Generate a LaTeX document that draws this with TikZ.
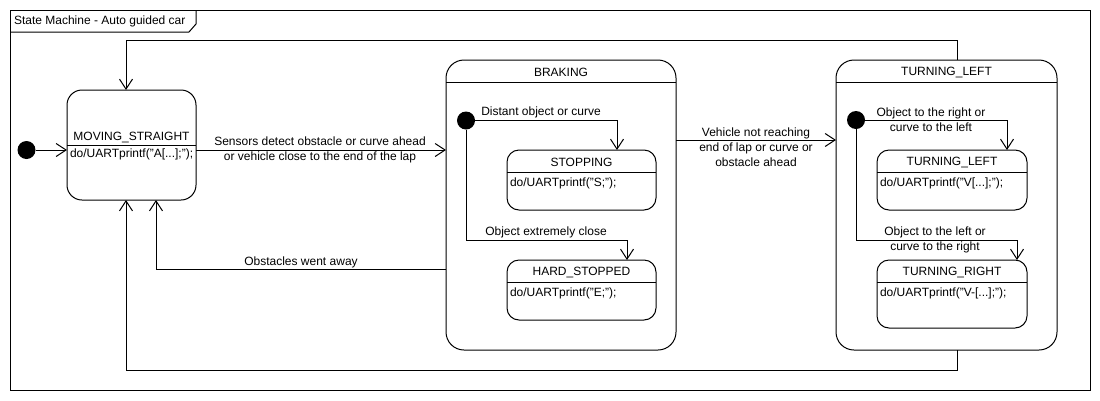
\documentclass[tikz,border=0pt]{standalone}
\usepackage{fontspec}
\setmainfont{Liberation Sans}
\usetikzlibrary{arrows.meta}
\begin{document}
\begin{tikzpicture}[x=1pt,y=-1pt,
  every node/.style={font=\fontsize{12}{15}\selectfont, inner sep=0pt, outer sep=0pt},
  line/.style={line width=1pt},
  arr/.style={line width=1pt, -{Straight Barb[length=10pt,width=13pt,line width=1pt]}},
  statebox/.style n args={3}{draw, line width=1pt, rounded corners=#3, anchor=north west,
     minimum width=#1, minimum height=#2},
  initdot/.style={circle, fill=black, minimum size=18pt},
  lbl/.style={align=center}
]
\useasboundingbox (0,0) rectangle (1100,400);
% frame
\draw[line] (10,10) rectangle (1090,390);
\draw[line] (10,32) -- (189,32) -- (196,24) -- (196,10);
\node[anchor=west] (frameT) at (14,21) {State Machine - Auto guided car};

% helper coordinates
\coordinate (c140) at (0,140);
\coordinate (c240) at (0,240);
\coordinate (c269) at (0,269);

% MOVING_STRAIGHT
\node[statebox={129pt}{110pt}{15pt}] (ms) at (67,90) {};
\draw[line] (67,145) -- (196,145);
\node (msT) at (131.5,137) {MOVING\_STRAIGHT};
\node[anchor=west] (msD) at (70,154) {do/UARTprintf("A[...];");};

% initial
\node[initdot] (i0) at (26.5,150) {};
\draw[arr] (i0) -- (ms.west |- i0);

% BRAKING
\node[statebox={230pt}{290pt}{18pt}] (brk) at (446,60) {};
\draw[line] (446,82) -- (676,82);
\node (brkT) at (561,72) {BRAKING};

\node[statebox={149pt}{60pt}{12pt}] (stop) at (507,150) {};
\draw[line] (507,172) -- (656,172);
\node (stopT) at (581.5,162) {STOPPING};
\node[anchor=west] (stopD) at (510,183) {do/UARTprintf("S;");};

\node[statebox={149pt}{60pt}{12pt}] (hard) at (507,260) {};
\draw[line] (507,282) -- (656,282);
\node (hardT) at (581.5,272) {HARD\_STOPPED};
\node[anchor=west] (hardD) at (510,293) {do/UARTprintf("E;");};

\node[initdot] (i1) at (466,120.5) {};
\draw[arr] (i1) -| ([xshift=35.5pt]stop.north);
\draw[arr] (i1) -- (i1 |- c240) -| ([xshift=45.5pt]hard.north);
\node (l1) at (541,112) {Distant object or curve};
\node (l2) at (546,232) {Object extremely close};

% TURNING_LEFT composite
\node[statebox={221pt}{290pt}{18pt}] (tl) at (836,60) {};
\draw[line] (836,82) -- (1057,82);
\node (tlT) at (946.5,72) {TURNING\_LEFT};

\node[statebox={150pt}{60pt}{12pt}] (tli) at (877,150) {};
\draw[line] (877,172) -- (1027,172);
\node (tliT) at (952,162) {TURNING\_LEFT};
\node[anchor=west] (tliD) at (880,183) {do/UARTprintf("V[...];");};

\node[statebox={150pt}{68pt}{12pt}] (tr) at (877,260) {};
\draw[line] (877,282) -- (1027,282);
\node (trT) at (952,272) {TURNING\_RIGHT};
\node[anchor=west] (trD) at (880,293) {do/UARTprintf("V-[...];");};

\node[initdot] (i2) at (856,120) {};
\draw[arr] (i2) -| ([xshift=55pt]tli.north);
\draw[arr] (i2) -- (i2 |- c240) -| ([xshift=65pt]tr.north);
\node[lbl] (l3) at (931,119.5) {Object to the right or\\curve to the left};
\node[lbl] (l4) at (935,239.5) {Object to the left or\\curve to the right};

% transitions
\draw[arr] (ms.east |- i0) -- (brk.west |- i0);
\node[lbl] (l5) at (320,149.5) {Sensors detect obstacle or curve ahead\\or vehicle close to the end of the lap};

\draw[arr] (brk.east |- c140) -- (tl.west |- c140);
\node[lbl] (l6) at (756,147) {Vehicle not reaching\\end of lap or curve or\\obstacle ahead};

\draw[arr] (brk.west |- c269) -| ([xshift=24.5pt]ms.south);
\node (l7) at (301,262) {Obstacles went away};

\draw[arr] ([xshift=10.5pt]tl.north) -- ++(0,-20) -| ([xshift=-5.5pt]ms.north);
\draw[arr] ([xshift=10.5pt]tl.south) -- ++(0,20) -| ([xshift=-5.5pt]ms.south);
\end{tikzpicture}
\end{document}
